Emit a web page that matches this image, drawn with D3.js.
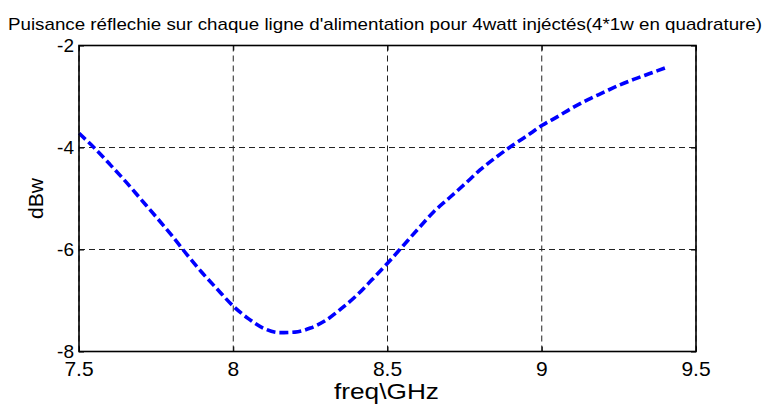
<!DOCTYPE html>
<html>
<head>
<meta charset="utf-8">
<script src="https://cdn.jsdelivr.net/npm/d3@7"></script>
<style>
  html, body { margin: 0; padding: 0; background: #fff; }
  svg { display: block; font-family: "Liberation Sans", Arial, sans-serif; }
</style>
</head>
<body>
<svg id="chart" width="767" height="404"></svg>
<script>
// Reflected power on each feed line (dBW) versus frequency (GHz)
const freqGHz = [7.50, 7.55, 7.60, 7.65, 7.70, 7.75, 7.80, 7.85, 7.90, 7.95,
                 8.00, 8.05, 8.10, 8.15, 8.20, 8.25, 8.30, 8.35, 8.40, 8.45,
                 8.50, 8.55, 8.60, 8.65, 8.70, 8.75, 8.80, 8.85, 8.90, 8.95,
                 9.00, 9.05, 9.10, 9.15, 9.20, 9.25, 9.30, 9.35, 9.40];
const powerDBw = [-3.72, -4.01, -4.33, -4.66, -5.01, -5.36, -5.72, -6.10, -6.46, -6.79,
                  -7.11, -7.36, -7.55, -7.63, -7.62, -7.54, -7.39, -7.16, -6.90, -6.59,
                  -6.27, -5.93, -5.59, -5.26, -4.99, -4.72, -4.44, -4.20, -3.98, -3.78,
                  -3.57, -3.40, -3.22, -3.06, -2.92, -2.78, -2.66, -2.55, -2.44];
const xTicks = [7.5, 8, 8.5, 9, 9.5];
const yTicks = [-8, -6, -4, -2];
const xTickLabels = ["7.5", "8", "8.5", "9", "9.5"];
const yTickLabels = ["-8", "-6", "-4", "-2"];
const titleText = "Puisance réflechie sur chaque ligne d'alimentation pour 4watt injéctés(4*1w en quadrature)";
const xLabel = "freq\\GHz";
const yLabel = "dBw";

const svg = d3.select("#chart");
const W = 767, H = 404;
const m = { left: 79, top: 45.5, right: 71, bottom: 52.5 };
const iw = W - m.left - m.right, ih = H - m.top - m.bottom;

const x = d3.scaleLinear().domain([7.5, 9.5]).range([0, iw]);
const y = d3.scaleLinear().domain([-8, -2]).range([ih, 0]);

const g = svg.append("g").attr("transform", `translate(${m.left},${m.top})`);

// dashed grid
g.append("g").selectAll("line").data(xTicks).join("line")
  .attr("x1", d => x(d)).attr("x2", d => x(d))
  .attr("y1", 0).attr("y2", ih)
  .attr("stroke", "#222").attr("stroke-width", 1).attr("stroke-dasharray", "6,4");
g.append("g").selectAll("line").data(yTicks).join("line")
  .attr("y1", d => y(d)).attr("y2", d => y(d))
  .attr("x1", 0).attr("x2", iw)
  .attr("stroke", "#222").attr("stroke-width", 1).attr("stroke-dasharray", "6,4");

// inward ticks on all four sides
const tickLen = 5;
const xAxisB = d3.axisBottom(x).tickValues(xTicks).tickSize(-tickLen).tickFormat("");
const xAxisT = d3.axisTop(x).tickValues(xTicks).tickSize(-tickLen).tickFormat("");
const yAxisL = d3.axisLeft(y).tickValues(yTicks).tickSize(-tickLen).tickFormat("");
const yAxisR = d3.axisRight(y).tickValues(yTicks).tickSize(-tickLen).tickFormat("");
[
  g.append("g").attr("transform", `translate(0,${ih})`).call(xAxisB),
  g.append("g").call(xAxisT),
  g.append("g").call(yAxisL),
  g.append("g").attr("transform", `translate(${iw},0)`).call(yAxisR)
].forEach(a => {
  a.select(".domain").remove();
  a.selectAll(".tick line").attr("stroke", "#000").attr("stroke-width", 1);
});

// data curve
const line = d3.line()
  .x((d, i) => x(freqGHz[i]))
  .y(d => y(d))
  .curve(d3.curveMonotoneX);
g.append("path")
  .datum(powerDBw)
  .attr("d", line)
  .attr("fill", "none")
  .attr("stroke", "#0000ff")
  .attr("stroke-width", 3.6)
  .attr("stroke-dasharray", "9,4");

// axes box
g.append("rect")
  .attr("x", 0).attr("y", 0).attr("width", iw).attr("height", ih)
  .attr("fill", "none").attr("stroke", "#000").attr("stroke-width", 1.6);

// tick labels
g.append("g").selectAll("text").data(xTicks).join("text")
  .attr("x", d => x(d)).attr("y", ih + 24)
  .attr("text-anchor", "middle")
  .attr("font-size", 21)
  .text((d, i) => xTickLabels[i]);
g.append("g").selectAll("text").data(yTicks).join("text")
  .attr("x", -5).attr("y", d => y(d) + 6.5)
  .attr("text-anchor", "end")
  .attr("font-size", 19)
  .text((d, i) => yTickLabels[i]);

// title and axis labels
svg.append("text")
  .attr("x", 8).attr("y", 30)
  .attr("font-size", 17)
  .attr("textLength", 754).attr("lengthAdjust", "spacingAndGlyphs")
  .text(titleText);
svg.append("text")
  .attr("x", m.left + iw / 2 - 1).attr("y", 399)
  .attr("text-anchor", "middle")
  .attr("font-size", 22)
  .attr("textLength", 105).attr("lengthAdjust", "spacingAndGlyphs")
  .text(xLabel);
svg.append("text")
  .attr("transform", `translate(43,${m.top + ih / 2}) rotate(-90)`)
  .attr("text-anchor", "middle")
  .attr("font-size", 21)
  .text(yLabel);
</script>
</body>
</html>
